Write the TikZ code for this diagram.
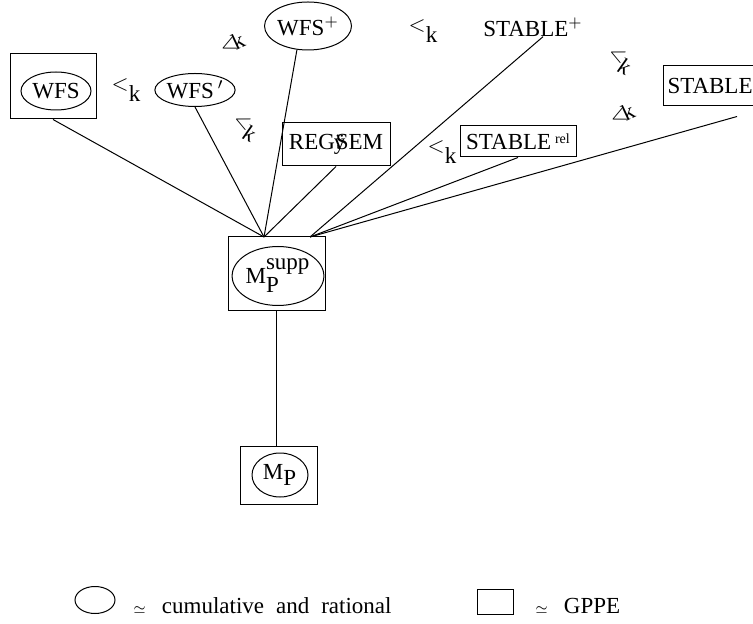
\documentclass[tikz,border=0pt]{standalone}
\usepackage{fontspec}
\setmainfont{Liberation Serif}
\usetikzlibrary{shapes.geometric, calc}

\newcommand{\lessk}{{\fontsize{11}{11}\selectfont$<$}\raisebox{-0.5em}{k}}
\newcommand{\lesskup}{{\fontsize{11}{11}\selectfont$<$}\kern-2pt\raisebox{-0.1em}{k}}
\newcommand{\lesskit}{{\fontsize{11}{11}\selectfont$<$}\kern-1pt\raisebox{-0.45em}{\textit{k}}}

\begin{document}
\begin{tikzpicture}[
  x=0.5pt, y=-0.5pt,
  every node/.style={font=\fontsize{11.5}{13}\selectfont},
  cumul/.style={draw, ellipse, inner sep=0pt, line width=0.5pt},
  gppe/.style={draw, rectangle, inner sep=0pt, line width=0.5pt},
  link/.style={line width=0.5pt},
  order/.style={inner sep=0pt}
]
\useasboundingbox (0,0) rectangle (753,624);

% semantics, top row
\node[gppe, minimum width=43pt, minimum height=32.5pt] (wfsbox) at (53,86.5) {};
\node[cumul, minimum width=35pt, minimum height=19pt] (wfs) at (56,91) {WFS};
\node[order] (lt1) at (126,90) {\lessk};
\node[cumul, minimum width=37.5pt, minimum height=16.5pt] (wfsp) at (195,90) {WFS\,$'$};
\node[cumul, minimum width=39.5pt, minimum height=24pt] (wfsplus) at (308,26) {WFS$^{+}$};
\node[order, rotate=25] (lt2) at (232,44) {\lesskup};
\node[order, rotate=-25] (lt3) at (244,128) {\lesskit};
\node[gppe, minimum width=54pt, minimum height=21.5pt] (regsem) at (336,144.5) {REG\kern-0.5pt ÿ\kern-0.42em SEM};
\node[order] (lt4) at (423,31) {\lessk};
\node[inner sep=0pt] (stplus) at (533,27) {STABLE$^{+}$};
\node[order, rotate=-25] (lt5) at (619,61) {\lesskit};
\node[order, rotate=25] (lt6) at (622,115) {\lesskup};
\node[order] (lt7) at (442,152) {\lessk};
\node[gppe, minimum width=58pt, minimum height=15.5pt] (strel) at (518,141.5) {STABLE\,\raisebox{0.6ex}{\scriptsize rel}};
\node[gppe, anchor=west, minimum height=20pt, inner xsep=2pt] (stab) at (663,86) {STABLE\hspace{20pt}};

% supported models
\node[gppe, minimum width=48.5pt, minimum height=37pt] (supbox) at (276.5,274) {};
\node[cumul, minimum width=38.5pt, minimum height=29.5pt] (sup) at (278,276) {$\textrm{M}_{\textrm{P}}^{\textrm{supp}}$};
\node[gppe, minimum width=38.5pt, minimum height=29pt] (mpbox) at (278.5,475) {};
\node[cumul, minimum width=28pt, minimum height=22pt] (mp) at (280,475) {$\textrm{M}_{\textrm{P}}$};

\coordinate (hubL) at (264,237);
\coordinate (hubR) at (310,237);

% lines
\draw[link] (wfsbox.south) -- (hubL);
\draw[link] (wfsp.south) -- (hubL);
\draw[link] (wfsplus.245) -- (hubL);
\draw[link] (regsem.south) -- (hubL);
\draw[link] ($(stplus.south)+(10,0)$) -- (hubR);
\draw[link] (strel.south) -- (hubR);
\draw[link] ($(stab.south west)+(74,10)$) -- (hubR);
\draw[link] (supbox.south) -- (supbox.south |- mpbox.north);

% legend
\node[cumul, minimum width=20pt, minimum height=13.5pt] (legc) at (95,600) {};
\node[anchor=base west, inner sep=0pt] (legctext) at (133,613) {{\scriptsize$\simeq$}\hspace{8pt}cumulative\hspace{6pt}and\hspace{6pt}rational};
\node[gppe, minimum width=18pt, minimum height=12.5pt] (legg) at (495,601.5) {};
\node[anchor=base west, inner sep=0pt] (leggtext) at (535,613) {{\scriptsize$\simeq$}\hspace{8pt}GPPE};
\end{tikzpicture}
\end{document}
